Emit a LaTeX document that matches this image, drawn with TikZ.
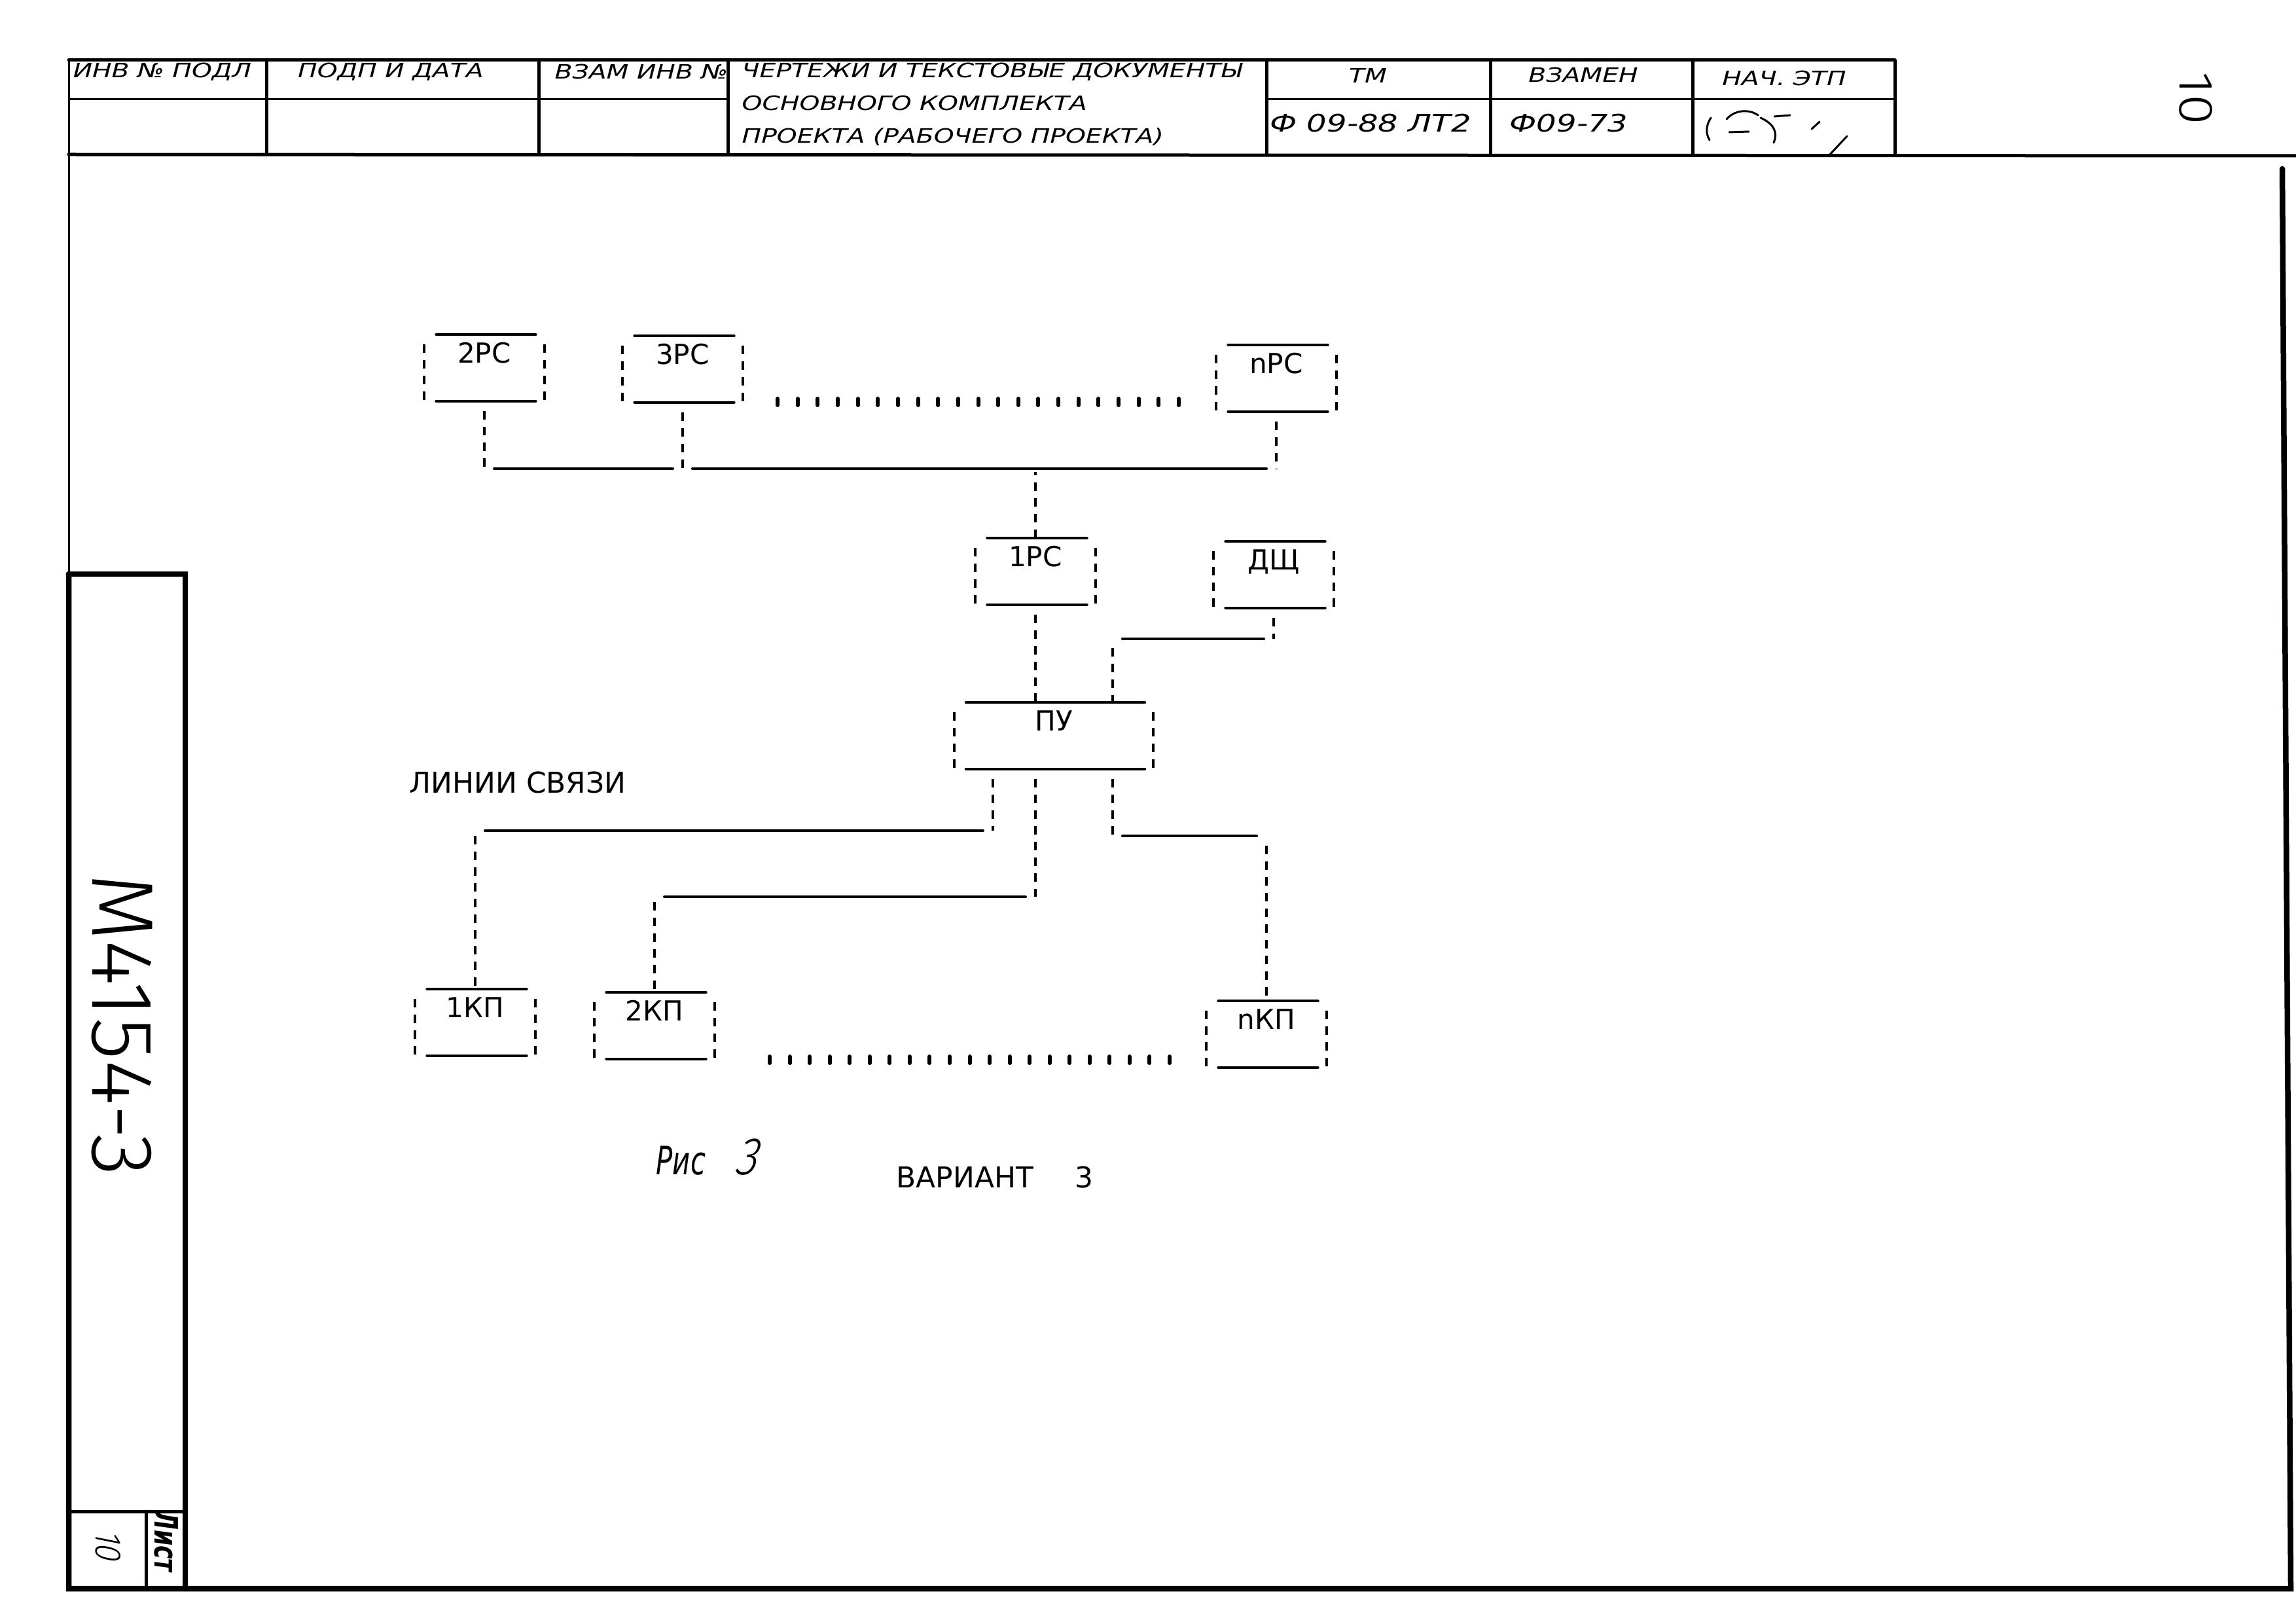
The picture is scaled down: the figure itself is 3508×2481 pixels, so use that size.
\documentclass[tikz,border=0pt]{standalone}
\usepackage{fontspec}
\setmainfont{DejaVu Sans}
\newfontfamily\plotfont{DejaVu Sans}
\newfontfamily\stampfont{DejaVu Sans}[FakeStretch=1.3]
\newfontfamily\handfont{Fira Sans Light}
\newfontfamily\handwide{Fira Sans Light}[FakeStretch=1.15]
\newfontfamily\handslant{Fira Sans Light}[FakeStretch=0.85,FakeSlant=0.2]
\newfontfamily\narrowfont{DejaVu Sans}[FakeStretch=0.7]
\usepackage{tikz}
\usetikzlibrary{calc}

\begin{document}
\begin{tikzpicture}[x=0.1mm,y=-0.1mm,line cap=round,
  frameln/.style={line width=0.85mm},
  stampln/.style={line width=0.5mm},
  thinln/.style={line width=0.3mm},
  solidln/.style={line width=0.4mm},
  busln/.style={solidln,shorten <=1.5mm,shorten >=1.5mm},
  dashln/.style={line width=0.38mm,line cap=butt,dash pattern=on 1.3mm off 1.1mm},
  dotln/.style={line width=0.6mm},
  rsbox/.style={minimum width=18.2mm,minimum height=10mm,inner sep=0pt,
    text height=2.9mm,text depth=4.4mm,font=\plotfont\fontsize{12}{14}\selectfont},
  plottext/.style={inner sep=0pt,font=\plotfont\fontsize{12.5}{15}\selectfont},
  stamp/.style={inner sep=0pt,font=\stampfont\itshape\fontsize{8.6}{10}\selectfont},
  stampbig/.style={inner sep=0pt,font=\stampfont\itshape\fontsize{10.5}{12}\selectfont}]
  \path[use as bounding box,fill=white] (0,0) rectangle (3508,2481);

  % stamp and frame
  \draw[stampln] (105,92) -- (2895,92);
  \draw[stampln] (105,236) -- (3508,238);
  \draw[thinln] (105,152) -- (1112,152);
  \draw[thinln] (1935,152) -- (2895,152);
  \foreach \cx in {407,823,1112,1935,2277,2586,2895}
    \draw[stampln] (\cx,92) -- (\cx,236);
  \draw[thinln] (105,92) -- (105,877);
  \draw[frameln] (105,877) -- (105,2427) -- (3500,2427) -- (3487,258);
  \draw[frameln] (105,877) -- (283,877) -- (283,2427);
  \draw[stampln] (105,2309) -- (283,2309);
  \draw[stampln] (223,2309) -- (223,2427);

  \node[stamp] (hinv) at (248,110) {ИНВ № ПОДЛ};
  \node[stamp] (hpodp) at (597,110) {ПОДП И ДАТА};
  \node[stamp] (hvzam) at (980,110) {ВЗАМ ИНВ №};
  \node[stamp,anchor=west] (hdoca) at (1133,110) {ЧЕРТЕЖИ И ТЕКСТОВЫЕ ДОКУМЕНТЫ};
  \node[stamp,anchor=west] (hdocb) at (1133,158) {ОСНОВНОГО КОМПЛЕКТА};
  \node[stamp,anchor=west] (hdocc) at (1133,209) {ПРОЕКТА (РАБОЧЕГО ПРОЕКТА)};
  \node[stamp] (htm) at (2090,115) {ТМ};
  \node[stamp] (hvzamen) at (2419,115) {ВЗАМЕН};
  \node[stamp] (hnach) at (2726,120) {НАЧ. ЭТП};
  \node[stampbig] (hcodea) at (2094,188) {Ф 09-88 ЛТ2};
  \node[stampbig] (hcodeb) at (2397,188) {Ф09-73};
  \draw[thinln] (2614,180) .. controls (2606,192) and (2606,204) .. (2612,214);
  \draw[thinln] (2638,182) .. controls (2650,168) and (2672,166) .. (2686,176);
  \draw[thinln] (2690,180) .. controls (2712,190) and (2716,204) .. (2710,218);
  \draw[thinln] (2642,202) -- (2672,201);
  \draw[thinln] (2711,178) -- (2735,176);
  \draw[thinln] (2768,197) -- (2780,186);
  \draw[thinln] (2794,238) -- (2822,208);

  \node[font=\handwide\fontsize{21}{24}\selectfont,rotate=-90] (sheetno) at (3355,150) {10};
  \node[font=\handfont\fontsize{38}{40}\selectfont,rotate=-90] (sheetcode) at (187,1566) {М4154-3};
  \node[font=\handslant\fontsize{16}{18}\selectfont,rotate=-90] (lstno) at (165,2360) {10};
  \node[font=\narrowfont\bfseries\itshape\fontsize{14}{16}\selectfont,rotate=-90] (lstlab) at (254,2355) {Лист};

  % units
  \node[rsbox] (rs2) at (740,562) {2РС};
  \node[rsbox] (rs3) at (1043,564) {3РС};
  \node[rsbox] (rsn) at (1950,578) {nРС};
  \node[rsbox] (rs1) at (1582,873) {1РС};
  \node[rsbox] (dsh) at (1946,878) {ДЩ};
  \node[rsbox,minimum width=30.3mm] (pu) at (1610,1124) {ПУ};
  \node[rsbox] (kp1) at (726,1562) {1КП};
  \node[rsbox] (kp2) at (1000,1567) {2КП};
  \node[rsbox] (kpn) at (1935,1580) {nКП};
  \foreach \bx in {rs2,rs3,rsn,rs1,dsh,pu,kp1,kp2,kpn}{
    \draw[solidln] ([xshift=1.8mm]\bx.north west) -- ([xshift=-1.3mm]\bx.north east);
    \draw[solidln] ([xshift=1.8mm]\bx.south west) -- ([xshift=-1.3mm]\bx.south east);
    \draw[dashln] ([yshift=-1.5mm]\bx.north west) -- (\bx.south west);
    \draw[dashln] ([yshift=-1.5mm]\bx.north east) -- (\bx.south east);
  }

  \coordinate (rsdotsl) at (1188,614);
  \coordinate (rsdotsr) at (1801,614);
  \coordinate (kpdotsl) at (1176,1619);
  \coordinate (kpdotsr) at (1787,1619);
  \foreach \i in {0,...,20}{
    \draw[dotln] ($(rsdotsl)!\i/20!(rsdotsr)$) ++(0,-5) -- ++(0,10);
    \draw[dotln] ($(kpdotsl)!\i/20!(kpdotsr)$) ++(0,-5) -- ++(0,10);
  }

  % links
  \coordinate (busrs) at (0,716);
  \draw[busln] (rs2.south |- busrs) -- (rs3.south |- busrs);
  \draw[busln] (rs3.south |- busrs) -- (rsn.south |- busrs);
  \foreach \bx in {rs2,rs3,rsn}
    \draw[dashln,shorten <=1.5mm] (\bx.south) -- (\bx.south |- busrs);
  \draw[dashln,shorten >=0.5mm] (rs1.north) -- (rs1.north |- busrs);
  \draw[dashln,shorten <=1.5mm] (rs1.south) -- (rs1.south |- pu.north);

  \coordinate (dshlvl) at (0,976);
  \coordinate (puin) at ([xshift=9mm]pu.north);
  \draw[dashln,shorten <=1.5mm] (dsh.south) -- (dsh.south |- dshlvl);
  \draw[busln] (dsh.south |- dshlvl) -- (puin |- dshlvl);
  \draw[dashln,shorten <=1.4mm] (puin |- dshlvl) -- (puin);

  \coordinate (puouta) at ([xshift=-9.3mm]pu.south);
  \coordinate (puoutb) at ([xshift=-2.8mm]pu.south);
  \coordinate (puoutc) at ([xshift=9mm]pu.south);
  \coordinate (lvla) at (0,1269);
  \coordinate (lvlb) at (0,1370);
  \coordinate (lvlc) at (0,1277);
  \draw[dashln,shorten <=1.5mm] (puouta) -- (puouta |- lvla);
  \draw[busln] (puouta |- lvla) -- (kp1.north |- lvla);
  \draw[dashln,shorten <=0.8mm] (kp1.north |- lvla) -- (kp1.north);
  \draw[dashln,shorten <=1.5mm] (puoutb) -- (puoutb |- lvlb);
  \draw[busln] (puoutb |- lvlb) -- (kp2.north |- lvlb);
  \draw[dashln,shorten <=0.8mm] (kp2.north |- lvlb) -- (kp2.north);
  \draw[dashln,shorten <=1.5mm] (puoutc) -- (puoutc |- lvlc);
  \draw[busln] (puoutc |- lvlc) -- (kpn.north |- lvlc);
  \draw[dashln,shorten <=1.5mm] (kpn.north |- lvlc) -- (kpn.north);

  \node[plottext] (linktitle) at (791,1195) {ЛИНИИ СВЯЗИ};
  \node[font=\narrowfont\itshape\fontsize{17}{19}\selectfont,anchor=base west,inner sep=0pt] (figcap) at (1002,1794)
    {Рис\hspace{4.5mm}{\handslant\fontsize{23}{25}\selectfont 3}};
  \node[plottext,anchor=west] (variant) at (1369,1798) {ВАРИАНТ\hspace{6.3mm}3};
\end{tikzpicture}
\end{document}
